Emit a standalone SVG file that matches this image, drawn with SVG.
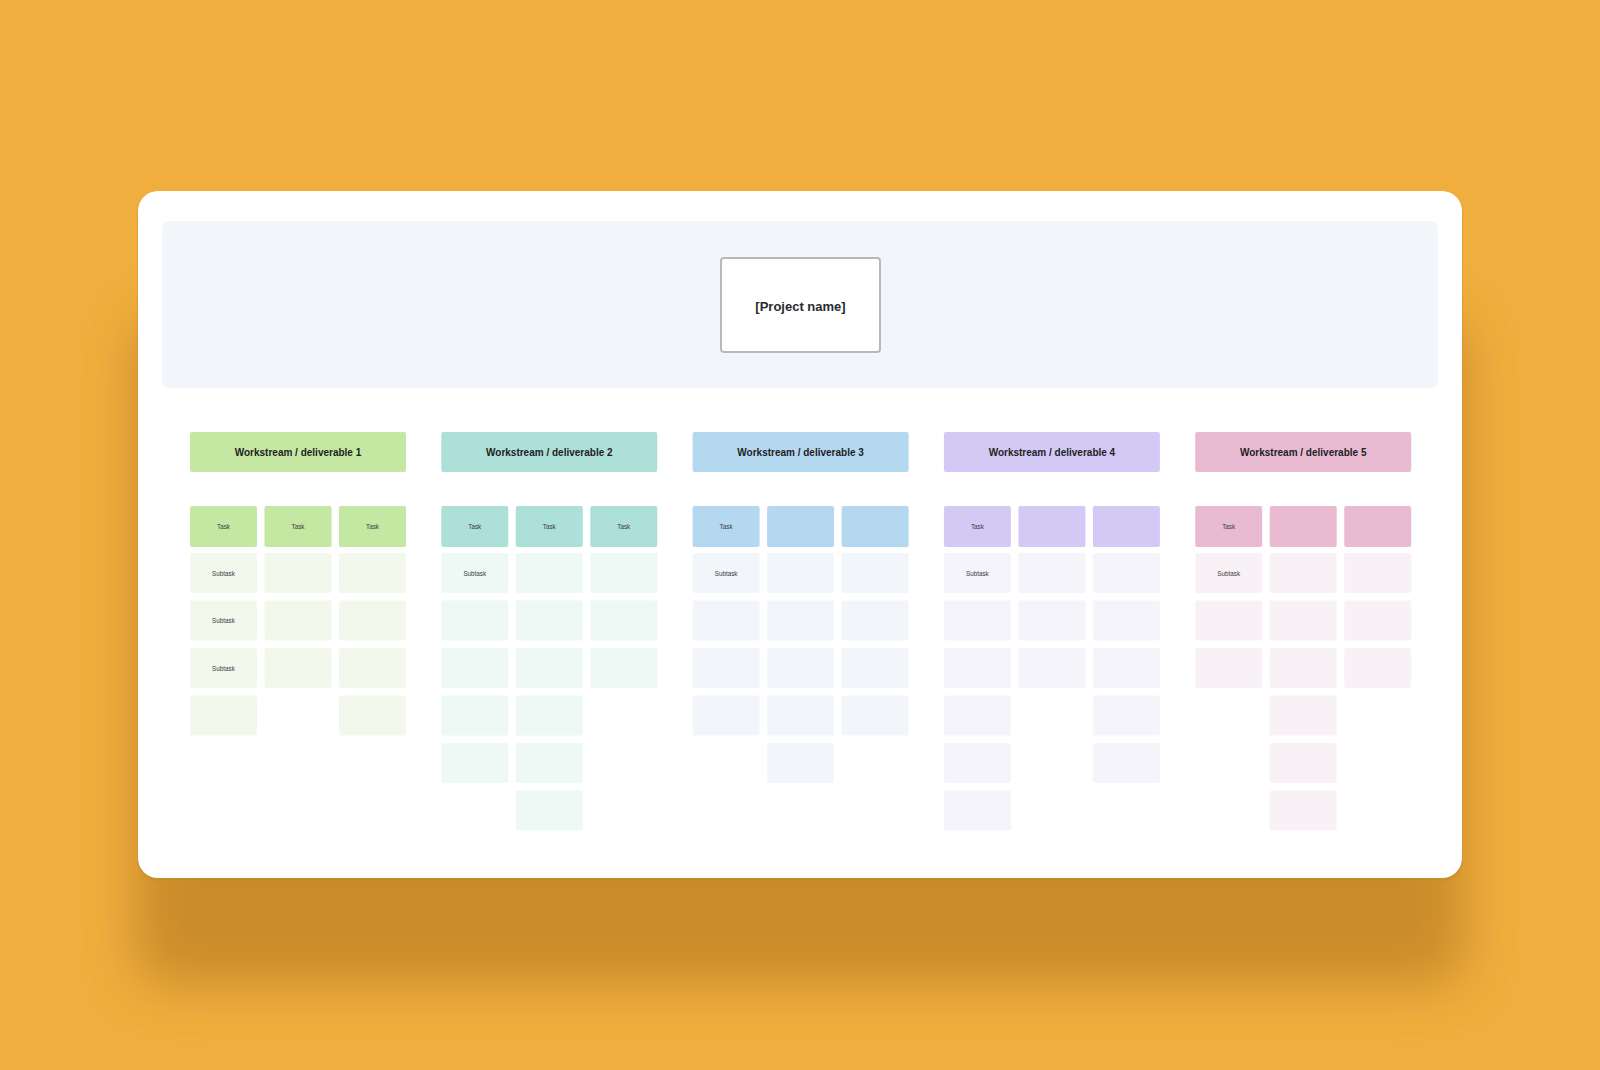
<svg xmlns="http://www.w3.org/2000/svg" width="1600" height="1070" viewBox="0 0 1600 1070">
<defs>
<filter id="bigShadow" x="-20%" y="-30%" width="140%" height="160%">
<feGaussianBlur stdDeviation="26"/>
</filter>
<filter id="edgeShadow" x="-5%" y="-5%" width="110%" height="110%">
<feGaussianBlur stdDeviation="1.5"/>
</filter>
<style>
.hdr{font-family:"Liberation Sans",Arial,sans-serif;font-weight:bold;font-size:10px;fill:#1e1e24;text-anchor:middle;dominant-baseline:central}
.sm{font-family:"Liberation Sans",Arial,sans-serif;font-size:6.3px;fill:#3a3a40;text-anchor:middle;dominant-baseline:central}
.pn{font-family:"Liberation Sans",Arial,sans-serif;font-weight:bold;font-size:13px;fill:#2a2a2e;text-anchor:middle;dominant-baseline:central}
.g1{fill:#c4e8a2}.s1{fill:#f3f8ec}
.g2{fill:#ade0d9}.s2{fill:#eef8f5}
.g3{fill:#b5d8f1}.s3{fill:#f2f6fb}
.g4{fill:#d3c9f4}.s4{fill:#f6f4fb}
.g5{fill:#e9bbd2}.s5{fill:#f8f2f6}
</style>
</defs>
<rect x="0" y="0" width="1600" height="1070" fill="#f0ae3e"/>
<rect x="135" y="320" width="1330" height="665" rx="30" fill="#c48626" opacity="0.85" filter="url(#bigShadow)"/>
<rect x="138" y="193" width="1324" height="687" rx="20" fill="#b88a2a" opacity="0.6" filter="url(#edgeShadow)"/>
<g id="card">
<rect x="138" y="191" width="1324" height="687" rx="20" fill="#ffffff"/>
<rect x="162" y="221" width="1276" height="167" rx="7" fill="#f2f6fb"/>
</g>
<g id="project">
<rect x="721" y="258" width="159" height="94" rx="3" fill="#ffffff" stroke="#b8b8bc" stroke-width="2"/>
<text class="pn" x="800.5" y="306">[Project name]</text>
</g>
<g id="connectors"></g>

<g id="ws1">
<rect class="g1" x="190" y="432" width="216" height="40" rx="2"/>
<text class="hdr" x="298" y="452">Workstream / deliverable 1</text>
<rect class="g1" x="190" y="506" width="67" height="41" rx="2"/><text class="sm" x="223.5" y="526.5">Task</text>
<rect class="g1" x="264.5" y="506" width="67" height="41" rx="2"/><text class="sm" x="298" y="526.5">Task</text>
<rect class="g1" x="339" y="506" width="67" height="41" rx="2"/><text class="sm" x="372.5" y="526.5">Task</text>
<rect class="s1" x="190" y="553" width="67" height="40" rx="2"/><text class="sm" x="223.5" y="573">Subtask</text>
<rect class="s1" x="190" y="600.5" width="67" height="40" rx="2"/><text class="sm" x="223.5" y="620.5">Subtask</text>
<rect class="s1" x="190" y="648" width="67" height="40" rx="2"/><text class="sm" x="223.5" y="668">Subtask</text>
<rect class="s1" x="190" y="695.5" width="67" height="40" rx="2"/>
<rect class="s1" x="264.5" y="553" width="67" height="40" rx="2"/>
<rect class="s1" x="264.5" y="600.5" width="67" height="40" rx="2"/>
<rect class="s1" x="264.5" y="648" width="67" height="40" rx="2"/>
<rect class="s1" x="339" y="553" width="67" height="40" rx="2"/>
<rect class="s1" x="339" y="600.5" width="67" height="40" rx="2"/>
<rect class="s1" x="339" y="648" width="67" height="40" rx="2"/>
<rect class="s1" x="339" y="695.5" width="67" height="40" rx="2"/>
</g>

<g id="ws2">
<rect class="g2" x="441.3" y="432" width="216" height="40" rx="2"/>
<text class="hdr" x="549.3" y="452">Workstream / deliverable 2</text>
<rect class="g2" x="441.3" y="506" width="67" height="41" rx="2"/><text class="sm" x="474.8" y="526.5">Task</text>
<rect class="g2" x="515.8" y="506" width="67" height="41" rx="2"/><text class="sm" x="549.3" y="526.5">Task</text>
<rect class="g2" x="590.3" y="506" width="67" height="41" rx="2"/><text class="sm" x="623.8" y="526.5">Task</text>
<rect class="s2" x="441.3" y="553" width="67" height="40" rx="2"/><text class="sm" x="474.8" y="573">Subtask</text>
<rect class="s2" x="441.3" y="600.5" width="67" height="40" rx="2"/>
<rect class="s2" x="441.3" y="648" width="67" height="40" rx="2"/>
<rect class="s2" x="441.3" y="695.5" width="67" height="40" rx="2"/>
<rect class="s2" x="441.3" y="743" width="67" height="40" rx="2"/>
<rect class="s2" x="515.8" y="553" width="67" height="40" rx="2"/>
<rect class="s2" x="515.8" y="600.5" width="67" height="40" rx="2"/>
<rect class="s2" x="515.8" y="648" width="67" height="40" rx="2"/>
<rect class="s2" x="515.8" y="695.5" width="67" height="40" rx="2"/>
<rect class="s2" x="515.8" y="743" width="67" height="40" rx="2"/>
<rect class="s2" x="515.8" y="790.5" width="67" height="40" rx="2"/>
<rect class="s2" x="590.3" y="553" width="67" height="40" rx="2"/>
<rect class="s2" x="590.3" y="600.5" width="67" height="40" rx="2"/>
<rect class="s2" x="590.3" y="648" width="67" height="40" rx="2"/>
</g>

<g id="ws3">
<rect class="g3" x="692.6" y="432" width="216" height="40" rx="2"/>
<text class="hdr" x="800.6" y="452">Workstream / deliverable 3</text>
<rect class="g3" x="692.6" y="506" width="67" height="41" rx="2"/><text class="sm" x="726.1" y="526.5">Task</text>
<rect class="g3" x="767.1" y="506" width="67" height="41" rx="2"/>
<rect class="g3" x="841.6" y="506" width="67" height="41" rx="2"/>
<rect class="s3" x="692.6" y="553" width="67" height="40" rx="2"/><text class="sm" x="726.1" y="573">Subtask</text>
<rect class="s3" x="692.6" y="600.5" width="67" height="40" rx="2"/>
<rect class="s3" x="692.6" y="648" width="67" height="40" rx="2"/>
<rect class="s3" x="692.6" y="695.5" width="67" height="40" rx="2"/>
<rect class="s3" x="767.1" y="553" width="67" height="40" rx="2"/>
<rect class="s3" x="767.1" y="600.5" width="67" height="40" rx="2"/>
<rect class="s3" x="767.1" y="648" width="67" height="40" rx="2"/>
<rect class="s3" x="767.1" y="695.5" width="67" height="40" rx="2"/>
<rect class="s3" x="767.1" y="743" width="67" height="40" rx="2"/>
<rect class="s3" x="841.6" y="553" width="67" height="40" rx="2"/>
<rect class="s3" x="841.6" y="600.5" width="67" height="40" rx="2"/>
<rect class="s3" x="841.6" y="648" width="67" height="40" rx="2"/>
<rect class="s3" x="841.6" y="695.5" width="67" height="40" rx="2"/>
</g>

<g id="ws4">
<rect class="g4" x="943.9" y="432" width="216" height="40" rx="2"/>
<text class="hdr" x="1051.9" y="452">Workstream / deliverable 4</text>
<rect class="g4" x="943.9" y="506" width="67" height="41" rx="2"/><text class="sm" x="977.4" y="526.5">Task</text>
<rect class="g4" x="1018.4" y="506" width="67" height="41" rx="2"/>
<rect class="g4" x="1092.9" y="506" width="67" height="41" rx="2"/>
<rect class="s4" x="943.9" y="553" width="67" height="40" rx="2"/><text class="sm" x="977.4" y="573">Subtask</text>
<rect class="s4" x="943.9" y="600.5" width="67" height="40" rx="2"/>
<rect class="s4" x="943.9" y="648" width="67" height="40" rx="2"/>
<rect class="s4" x="943.9" y="695.5" width="67" height="40" rx="2"/>
<rect class="s4" x="943.9" y="743" width="67" height="40" rx="2"/>
<rect class="s4" x="943.9" y="790.5" width="67" height="40" rx="2"/>
<rect class="s4" x="1018.4" y="553" width="67" height="40" rx="2"/>
<rect class="s4" x="1018.4" y="600.5" width="67" height="40" rx="2"/>
<rect class="s4" x="1018.4" y="648" width="67" height="40" rx="2"/>
<rect class="s4" x="1092.9" y="553" width="67" height="40" rx="2"/>
<rect class="s4" x="1092.9" y="600.5" width="67" height="40" rx="2"/>
<rect class="s4" x="1092.9" y="648" width="67" height="40" rx="2"/>
<rect class="s4" x="1092.9" y="695.5" width="67" height="40" rx="2"/>
<rect class="s4" x="1092.9" y="743" width="67" height="40" rx="2"/>
</g>

<g id="ws5">
<rect class="g5" x="1195.2" y="432" width="216" height="40" rx="2"/>
<text class="hdr" x="1303.2" y="452">Workstream / deliverable 5</text>
<rect class="g5" x="1195.2" y="506" width="67" height="41" rx="2"/><text class="sm" x="1228.7" y="526.5">Task</text>
<rect class="g5" x="1269.7" y="506" width="67" height="41" rx="2"/>
<rect class="g5" x="1344.2" y="506" width="67" height="41" rx="2"/>
<rect class="s5" x="1195.2" y="553" width="67" height="40" rx="2"/><text class="sm" x="1228.7" y="573">Subtask</text>
<rect class="s5" x="1195.2" y="600.5" width="67" height="40" rx="2"/>
<rect class="s5" x="1195.2" y="648" width="67" height="40" rx="2"/>
<rect class="s5" x="1269.7" y="553" width="67" height="40" rx="2"/>
<rect class="s5" x="1269.7" y="600.5" width="67" height="40" rx="2"/>
<rect class="s5" x="1269.7" y="648" width="67" height="40" rx="2"/>
<rect class="s5" x="1269.7" y="695.5" width="67" height="40" rx="2"/>
<rect class="s5" x="1269.7" y="743" width="67" height="40" rx="2"/>
<rect class="s5" x="1269.7" y="790.5" width="67" height="40" rx="2"/>
<rect class="s5" x="1344.2" y="553" width="67" height="40" rx="2"/>
<rect class="s5" x="1344.2" y="600.5" width="67" height="40" rx="2"/>
<rect class="s5" x="1344.2" y="648" width="67" height="40" rx="2"/>
</g>
</svg>
